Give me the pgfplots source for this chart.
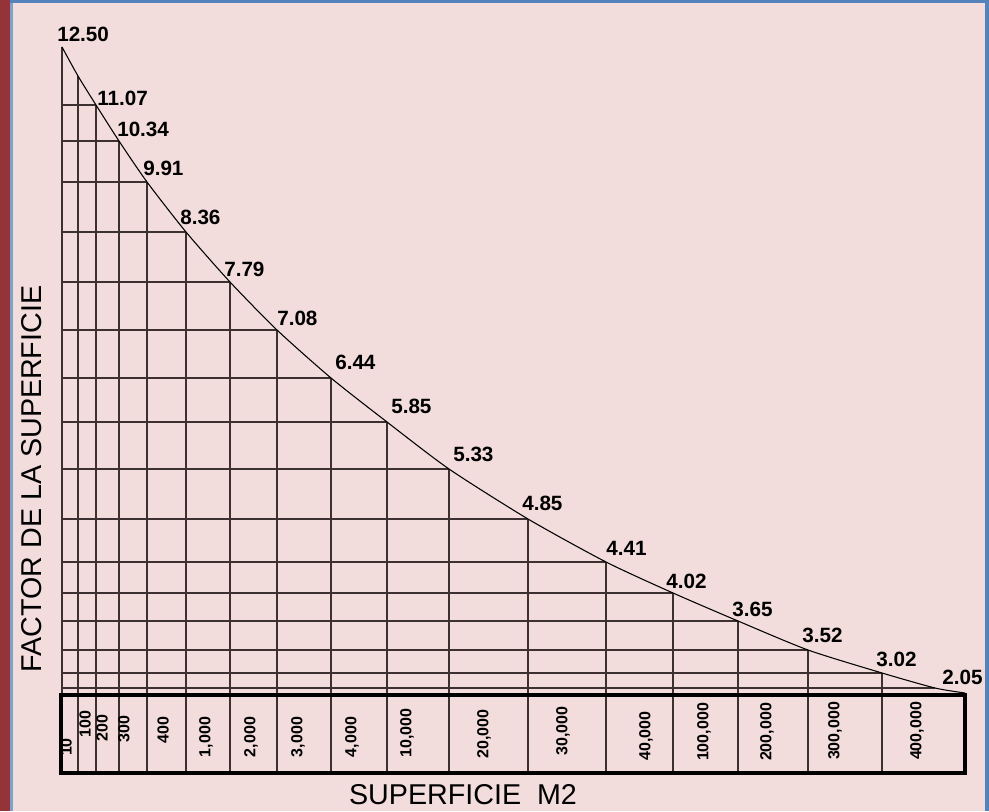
\documentclass[border=0pt]{standalone}
\usepackage{pgfplots}
\pgfplotsset{compat=1.18}
\usepackage{pgfplotstable}
\usepackage{fontspec}
\setmainfont{Liberation Sans}
\definecolor{bgpink}{RGB}{242,220,220}
\definecolor{darkred}{RGB}{149,52,56}
\definecolor{frameblue}{RGB}{84,130,186}
\definecolor{gridc}{RGB}{60,48,48}

% curve (position along the strip, height above the base line)
\pgfplotstableread{
x y
0 647
16 618
34 589
57 553
85 512
124 462
168 412
215 364
269 316
325 272
387 225
466 175
544 132
611 101
676 73
746 44
820 21
873 6
903 1
}\curve

\pgfplotstableread{
x y
0 647
16 618
34 589
57 553
85 512
124 462
168 412
215 364
269 316
325 272
387 225
466 175
544 132
611 101
676 73
746 44
820 21
}\verts

\pgfplotstableread{
x y
34 589
57 553
85 512
124 462
168 412
215 364
269 316
325 272
387 225
466 175
544 132
611 101
676 73
746 44
820 21
873 6
}\horiz

\pgfplotstableread{
x y
16 -79
34 -79
57 -79
85 -79
124 -79
168 -79
215 -79
269 -79
325 -79
387 -79
466 -79
544 -79
611 -79
676 -79
746 -79
820 -79
}\dividers

\pgfplotstableread{
x y lab
-5 652 12.50
35 588 11.07
55 557 10.34
81 518 9.91
118 469 8.36
162 417 7.79
215 368 7.08
273 324 6.44
329 280 5.85
391 232 5.33
460 183 4.85
544 138 4.41
604 105 4.02
670 77 3.65
740 51 3.52
814 27 3.02
880 9 2.05
}\vlabels

\pgfplotstableread{
x y lab
4 -53 10
23 -30 100
40 -34 200
62 -35 300
101 -36 400
144 -43 1,000
189 -43 2,000
236 -43 3,000
290 -43 4,000
345 -39 10,000
422 -40 20,000
501 -37 30,000
584 -42 40,000
642 -38 100,000
705 -38 200,000
773 -37 300,000
855 -37 400,000
}\boxlabels

\begin{document}
\begin{tikzpicture}
\begin{axis}[
  scale only axis, width=741.75pt, height=608.25pt,
  xmin=-62, xmax=927, ymin=-117, ymax=694,
  hide axis, clip=false,
]
\fill[bgpink] (axis cs:-62,-117) rectangle (axis cs:927,694);
\fill[darkred] (axis cs:-62,-117) rectangle (axis cs:-52,694);
\fill[frameblue!75] (axis cs:-52,-117) rectangle (axis cs:-49,694);
\fill[frameblue] (axis cs:-52,691) rectangle (axis cs:927,694);
\fill[frameblue] (axis cs:923,-117) rectangle (axis cs:927,694);

\addplot[ycomb, gridc, line width=1.1pt] table {\verts};
\addplot[xcomb, gridc, line width=1.1pt] table {\horiz};
\addplot[ycomb, gridc, line width=1.1pt] table {\dividers};
\addplot[black, line width=0.8pt, smooth, tension=0.4] table {\curve};
\draw[black, line width=2.7pt] (axis cs:-1,-1) rectangle (axis cs:903,-79);

\addplot[only marks, mark=none, nodes near coords, point meta=explicit symbolic,
  every node near coord/.append style={anchor=south west, inner sep=0pt, text=black,
    font=\bfseries\fontsize{15.5}{18}\selectfont}]
  table[meta=lab] {\vlabels};

\addplot[only marks, mark=none, nodes near coords, point meta=explicit symbolic,
  every node near coord/.append style={anchor=center, rotate=90, inner sep=0pt, text=black,
    font=\bfseries\fontsize{12}{14}\selectfont}]
  table[meta=lab] {\boxlabels};

\node[anchor=center, inner sep=0pt] at (axis cs:401,-100.5)
  {\fontsize{21.5}{24}\selectfont SUPERFICIE\ \ M2};
\node[anchor=center, inner sep=0pt, rotate=90] at (axis cs:-30,215)
  {\fontsize{21.5}{24}\selectfont FACTOR DE LA SUPERFICIE};
\end{axis}
\end{tikzpicture}
\end{document}
